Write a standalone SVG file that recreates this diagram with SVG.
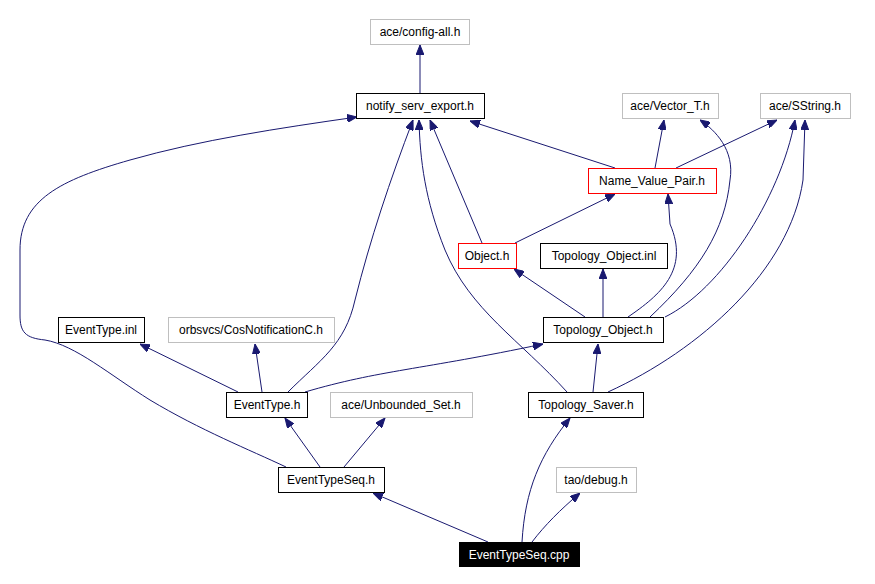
<svg xmlns="http://www.w3.org/2000/svg" width="875" height="584" viewBox="0 0 875 584">
<style>
.n rect{fill:#fff;stroke:#000;stroke-width:1}
.g rect{stroke:#bfbfbf}
.r rect{stroke:#ff0000}
text{font-family:"Liberation Sans",Arial,sans-serif;font-size:12px;text-anchor:middle;fill:#000}
.e path{fill:none;stroke:#191970;stroke-width:1;marker-end:url(#a)}
</style>
<defs><marker id="a" viewBox="0 0 10 8" refX="10" refY="4" markerWidth="10" markerHeight="8" markerUnits="userSpaceOnUse" orient="auto"><path d="M0,0L10,4L0,8z" fill="#191970" stroke="#191970"/></marker></defs>
<rect width="875" height="584" fill="#fff"/>
<g class="e">
<path d="M420,93V45"/>
<path d="M615,168L470,121"/>
<path d="M655,168L664,120"/>
<path d="M676,168L777,120"/>
<path d="M515,243L615,194"/>
<path d="M482,243L430,120"/>
<path d="M585,317L514,269"/>
<path d="M603,317V269"/>
<path d="M628,317C660,295 690,270 670,224L668,194"/>
<path d="M650,317C700,270 725,230 730,180C735,150 715,130 700,120"/>
<path d="M665,317C720,290 780,200 795,120"/>
<path d="M593,392L598,344"/>
<path d="M608,392C700,350 790,270 803,180L805,120"/>
<path d="M567,392C520,340 470,310 445,250C425,200 420,160 419,120"/>
<path d="M288,392C320,360 345,345 355,300C370,240 390,180 413,120"/>
<path d="M305,392C380,370 420,370 543,344"/>
<path d="M238,392L140,344"/>
<path d="M262,392L255,344"/>
<path d="M320,467L285,418"/>
<path d="M344,467L385,418"/>
<path d="M286,467C250,450 200,430 150,400C110,375 75,345 45,340C25,338 20,332 20,315L20,250C20,200 60,180 130,160C200,140 280,128 357,117"/>
<path d="M488,542L373,493"/>
<path d="M522,542C525,490 540,455 570,418"/>
<path d="M532,542C545,525 560,510 580,493"/>
</g>
<g id="config" class="n g"><rect x="370.5" y="19.5" width="99" height="25"/><text x="420" y="36">ace/config-all.h</text></g>
<g id="notify" class="n"><rect x="356.5" y="93.5" width="128" height="25"/><text x="420" y="110">notify_serv_export.h</text></g>
<g id="vector" class="n g"><rect x="622.5" y="93.5" width="96" height="25"/><text x="670" y="110">ace/Vector_T.h</text></g>
<g id="sstring" class="n g"><rect x="760.5" y="93.5" width="90" height="25"/><text x="805" y="110">ace/SString.h</text></g>
<g id="nvp" class="n r"><rect x="588.5" y="168.5" width="128" height="25"/><text x="652" y="185">Name_Value_Pair.h</text></g>
<g id="object" class="n r"><rect x="458.5" y="243.5" width="58" height="25"/><text x="487" y="260">Object.h</text></g>
<g id="toinl" class="n"><rect x="540.5" y="243.5" width="127" height="25"/><text x="604" y="260">Topology_Object.inl</text></g>
<g id="toh" class="n"><rect x="543.5" y="317.5" width="120" height="25"/><text x="603" y="334">Topology_Object.h</text></g>
<g id="etinl" class="n"><rect x="58.5" y="317.5" width="86" height="25"/><text x="101" y="334">EventType.inl</text></g>
<g id="cos" class="n g"><rect x="168.5" y="317.5" width="166" height="25"/><text x="251" y="334">orbsvcs/CosNotificationC.h</text></g>
<g id="eth" class="n"><rect x="226.5" y="392.5" width="81" height="25"/><text x="267" y="409">EventType.h</text></g>
<g id="unb" class="n g"><rect x="330.5" y="392.5" width="142" height="25"/><text x="401" y="409">ace/Unbounded_Set.h</text></g>
<g id="saver" class="n"><rect x="528.5" y="392.5" width="115" height="25"/><text x="586" y="409">Topology_Saver.h</text></g>
<g id="etseq" class="n"><rect x="278.5" y="467.5" width="106" height="25"/><text x="331" y="484">EventTypeSeq.h</text></g>
<g id="debug" class="n g"><rect x="556.5" y="467.5" width="80" height="25"/><text x="596" y="484">tao/debug.h</text></g>
<g id="cpp"><rect x="459" y="542" width="121" height="25" fill="#000"/><text x="519" y="559" fill="#fff" style="fill:#fff">EventTypeSeq.cpp</text></g>
</svg>
